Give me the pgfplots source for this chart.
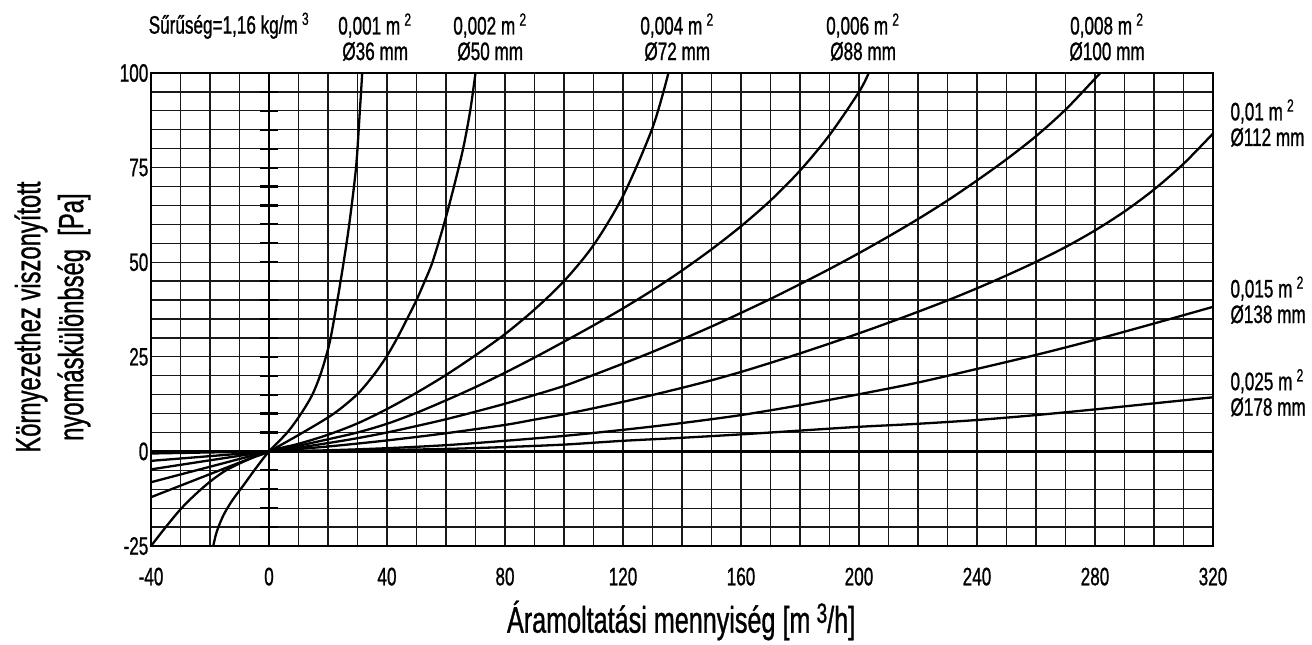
\documentclass[border=0pt]{standalone}
\usepackage{fontspec}
\setmainfont{Liberation Sans}[FakeStretch=0.68, FakeBold=0.9]
\usepackage{pgfplots}
\pgfplotsset{compat=1.18}
\newcommand{\tk}{\fontsize{12.6}{12.8}\selectfont}
\newcommand{\ylab}{\fontsize{17.5}{21.5}\selectfont}
\newcommand{\xlab}{\fontsize{18.5}{20}\selectfont}
\begin{document}
\begin{tikzpicture}
\path[use as bounding box] (-75.5pt,-49pt) rectangle (580.5pt,273pt);
\begin{axis}[
  at={(0,0)}, anchor=south west,
  width=531pt, height=236.5pt, scale only axis,
  xmin=-40, xmax=320, ymin=-25, ymax=100,
  xtick={-40,0,...,320}, minor x tick num=3,
  ytick={-25,0,...,100}, minor y tick num=4,
  xticklabels={-40,0,40,80,120,160,200,240,280,320},
  yticklabels={-25,0,25,50,75,100},
  grid=both,
  major grid style={black!90, line width=0.65pt},
  minor grid style={black!90, line width=0.65pt},
  tick style={draw=none},
  axis line style={line width=0.8pt},
  ticklabel style={font=\tk},
  xticklabel style={yshift=-7.3pt},
  yticklabel style={xshift=2.2pt},
  clip=false,
  unbounded coords=jump,
  crv/.style={black, solid, line width=1.15pt, smooth, mark=none},
]
% zero lines
\addplot[black, solid, mark=none, line width=1.3pt] coordinates {(0,-25) (0,100)};
\addplot[black, solid, mark=none, line width=1.3pt] coordinates {(-40,0) (320,0)};
% short ticks on the zero line
\addplot[black, solid, mark=none, line width=1.1pt] coordinates {
(-3,-25)(3,-25)(0,nan)(-3,-20)(3,-20)(0,nan)(-3,-15)(3,-15)(0,nan)(-3,-10)(3,-10)(0,nan)(-3,-5)(3,-5)(0,nan)
(-3,5)(3,5)(0,nan)(-3,10)(3,10)(0,nan)(-3,15)(3,15)(0,nan)(-3,20)(3,20)(0,nan)(-3,25)(3,25)(0,nan)
(-3,30)(3,30)(0,nan)(-3,35)(3,35)(0,nan)(-3,40)(3,40)(0,nan)(-3,45)(3,45)(0,nan)(-3,50)(3,50)(0,nan)
(-3,55)(3,55)(0,nan)(-3,60)(3,60)(0,nan)(-3,65)(3,65)(0,nan)(-3,70)(3,70)(0,nan)(-3,75)(3,75)(0,nan)
(-3,80)(3,80)(0,nan)(-3,85)(3,85)(0,nan)(-3,90)(3,90)(0,nan)(-3,95)(3,95)(0,nan)(-3,100)(3,100)};
% 0.001
\addplot[crv] coordinates {(-18.9,-25) (-17.7,-21.2) (-15.4,-16.8) (-12.4,-12.9) (-8.6,-8.9) (-4.6,-4.6) (0,0) (6.2,5) (10.9,10) (14.7,15) (17.3,20) (19.3,25) (20.9,30) (23.2,40) (25.3,50) (27.2,60) (29.5,75) (30.8,90) (31.6,100)};
% 0.002
\addplot[crv] coordinates {(-40,-25) (-35,-20) (-30,-15.3) (-25,-11.4) (-20,-8) (-15,-5.2) (-10,-3.2) (-5,-1.5) (0,0) (11.5,5) (22,10) (29.8,15) (35.3,20) (39.8,25) (43.5,30) (46.8,35) (50,40) (52.8,45) (55.4,50) (59.3,60) (62.7,70) (65.8,80) (68.2,90) (70,100)};
% 0.004
\addplot[crv] coordinates {(-40,-12.1) (-20,-6.0) (0,0) (10,2) (20,4.4) (30,7.4) (40,11.2) (50,15.5) (60,20.2) (70,25.4) (80,31) (90,37.5) (100,45) (110,54.5) (120,67.5) (130,85.5) (135.4,100)};
% 0.006
\addplot[crv] coordinates {(-40,-8.15) (-20,-4.05) (0,0) (10,1.5) (20,3.2) (30,5.0) (40,7.3) (50,10.2) (60,13.5) (70,17.0) (80,20.8) (90,24.8) (100,29) (110,33.3) (120,37.8) (130,42.6) (140,47.8) (150,53.4) (160,59.5) (170,66.3) (180,74.2) (190,83.6) (200,95) (203.3,100)};
% 0.008
\addplot[crv] coordinates {(-40,-4.75) (-20,-2.35) (0,0) (10,1.0) (20,2.2) (30,3.5) (40,5.0) (50,6.7) (60,8.5) (70,10.5) (80,12.6) (90,14.9) (100,17.3) (110,20.2) (120,23.2) (130,26.3) (140,29.6) (150,33.0) (160,36.6) (170,40.3) (180,44.2) (190,48.2) (200,52.4) (210,56.8) (220,61.4) (230,66.3) (240,71.6) (250,77.2) (260,83.3) (270,90.3) (280,98.5) (281.8,100)};
% 0.01
\addplot[crv] coordinates {(-40,-2.5) (-20,-1.25) (0,0) (20,1.3) (40,2.9) (60,4.8) (80,7.0) (90,8.4) (100,9.8) (110,11.4) (120,13.1) (130,14.9) (140,16.8) (150,18.8) (160,21) (170,23.4) (180,25.9) (190,28.5) (200,31.2) (210,34.0) (220,36.9) (230,39.9) (240,43.1) (250,46.5) (260,50.1) (270,54.0) (280,58.4) (290,63.4) (300,69.2) (310,76.0) (320,84)};
% 0.015
\addplot[crv] coordinates {(-40,-0.55) (-20,-0.27) (0,0) (20,0.3) (40,0.85) (60,1.65) (80,2.8) (100,4.1) (120,5.7) (140,7.5) (160,9.6) (180,12.2) (200,15.1) (220,18.2) (240,21.8) (260,25.5) (280,29.5) (300,33.8) (320,38.2)};
% 0.025
\addplot[crv] coordinates {(-40,-0.2) (-20,-0.1) (0,0) (20,0.15) (40,0.38) (60,0.65) (80,1.15) (100,1.8) (120,2.8) (140,3.6) (160,4.5) (180,5.5) (200,6.5) (220,7.3) (240,8.3) (260,9.6) (280,11.1) (300,12.7) (320,14.3)};
% labels
\node[font=\tk, anchor=west, inner sep=0pt] at (axis cs:-40.9,112.5) {Sűrűség=1,16 kg/m\,\textsuperscript{3}};
\node[font=\tk, align=center, inner sep=0pt] at (axis cs:36.0,109.5) {0,001 m\,\textsuperscript{2}\\Ø36 mm};
\node[font=\tk, align=center, inner sep=0pt] at (axis cs:75.0,109.5) {0,002 m\,\textsuperscript{2}\\Ø50 mm};
\node[font=\tk, align=center, inner sep=0pt] at (axis cs:138.4,109.5) {0,004 m\,\textsuperscript{2}\\Ø72 mm};
\node[font=\tk, align=center, inner sep=0pt] at (axis cs:201.4,109.5) {0,006 m\,\textsuperscript{2}\\Ø88 mm};
\node[font=\tk, align=center, inner sep=0pt] at (axis cs:284.1,109.5) {0,008 m\,\textsuperscript{2}\\Ø100 mm};
\node[font=\tk, align=left, anchor=west, inner sep=0pt] at (axis cs:325.8,86.8) {0,01 m\,\textsuperscript{2}\\Ø112 mm};
\node[font=\tk, align=left, anchor=west, inner sep=0pt] at (axis cs:325.8,40) {0,015 m\,\textsuperscript{2}\\Ø138 mm};
\node[font=\tk, align=left, anchor=west, inner sep=0pt] at (axis cs:325.8,15.5) {0,025 m\,\textsuperscript{2}\\Ø178 mm};
\node[font=\ylab, rotate=90, align=center, inner sep=0pt] at (axis cs:-73.4,35.5) {Környezethez viszonyított\\nyomáskülönbség\ \ [Pa]};
\node[font=\xlab, anchor=base, inner sep=0pt] at (axis cs:139.7,-47.9) {Áramoltatási mennyiség [m\,\raisebox{0.5ex}{\fontsize{14}{14}\selectfont 3}/h]};
\end{axis}
\end{tikzpicture}
\end{document}
